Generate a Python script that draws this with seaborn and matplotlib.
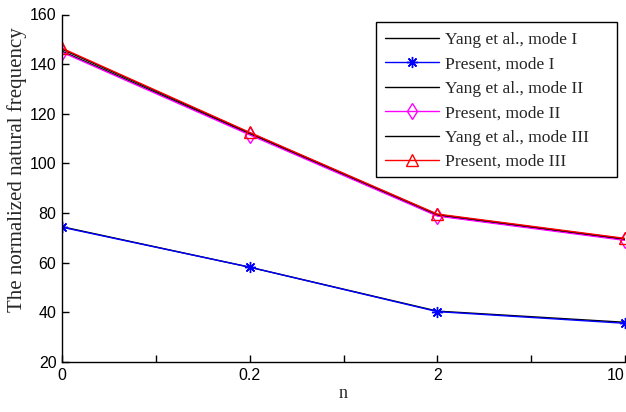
import numpy as np
import pandas as pd
import matplotlib
matplotlib.use("Agg")
import matplotlib.pyplot as plt
from matplotlib.patches import Rectangle
import seaborn as sns

n_labels = ["0", "0.2", "2", "10"]
yang_mode1 = [74.5, 58.2, 40.5, 36.0]
present_mode1 = [74.3, 58.2, 40.3, 35.6]
yang_mode2 = [145.2, 111.9, 79.0, 69.3]
present_mode2 = [144.8, 111.5, 78.8, 69.0]
yang_mode3 = [146.0, 112.3, 79.4, 69.6]
present_mode3 = [146.4, 112.5, 79.6, 69.8]

series = [
    ("Yang et al., mode I", yang_mode1, "black", None),
    ("Present, mode I", present_mode1, "#0000ff", (8, 2, 0)),
    ("Yang et al., mode II", yang_mode2, "black", None),
    ("Present, mode II", present_mode2, "#ff00ff", "d"),
    ("Yang et al., mode III", yang_mode3, "black", None),
    ("Present, mode III", present_mode3, "#ff0000", "^"),
]

sns.set_theme(style="ticks")
plt.rcParams["font.family"] = ["Liberation Serif", "DejaVu Serif"]

fig = plt.figure(figsize=(6.26, 4.12), dpi=100)
ax = fig.add_axes([62 / 626, 1 - 362 / 412, 563 / 626, 347.5 / 412])

pos = np.arange(len(n_labels)) * 2
rows = []
for name, vals, col, mk in series:
    for p, v in zip(pos, vals):
        rows.append({"pos": p, "val": v, "series": name})
df = pd.DataFrame(rows)

for name, vals, col, mk in series:
    sub = df[df["series"] == name]
    kw = dict(color=col, linewidth=1.0, label=name)
    if mk is not None:
        kw.update(marker=mk, markersize=8,
                  markerfacecolor="none",
                  markeredgecolor=col, markeredgewidth=1.0)
    sns.lineplot(data=sub, x="pos", y="val", ax=ax, **kw)

ax.set_xlim(0, 6)
ax.set_ylim(20, 160)
ax.set_xticks(np.arange(0, 7))
ax.set_xticklabels([n_labels[i // 2] if i % 2 == 0 else "" for i in range(7)])
ax.set_yticks(np.arange(20, 161, 20))
ax.tick_params(direction="in", length=5, width=1, colors="black", labelsize=11.5, pad=4)
for lab in ax.get_xticklabels() + ax.get_yticklabels():
    lab.set_family(["Liberation Sans Narrow", "Liberation Sans", "DejaVu Sans"])
ax.get_xticklabels()[-1].set_ha("right")
ax.spines["top"].set_visible(False)
ax.spines["right"].set_visible(False)
for s in ("left", "bottom"):
    ax.spines[s].set_color("black")
    ax.spines[s].set_linewidth(1.0)

ax.set_xlabel("n", fontsize=13, labelpad=2)
ax.set_ylabel("The normalized natural frequency", fontsize=15)
ax.yaxis.set_label_coords(-0.062, 0.553)

leg = ax.legend(loc="upper left", frameon=False,
                fontsize=12.6, handlelength=3.1, borderpad=0.0, labelspacing=0.47,
                handletextpad=0.35, borderaxespad=0.0,
                bbox_to_anchor=(385 / 626, 1 - 31.5 / 412),
                bbox_transform=fig.transFigure)
fig.patches.append(Rectangle((376 / 626, 1 - 177 / 412), 241 / 626, 155 / 412,
                             transform=fig.transFigure, fill=False,
                             edgecolor="black", linewidth=1.0, zorder=5))

fig.savefig("out.png", dpi=100)
